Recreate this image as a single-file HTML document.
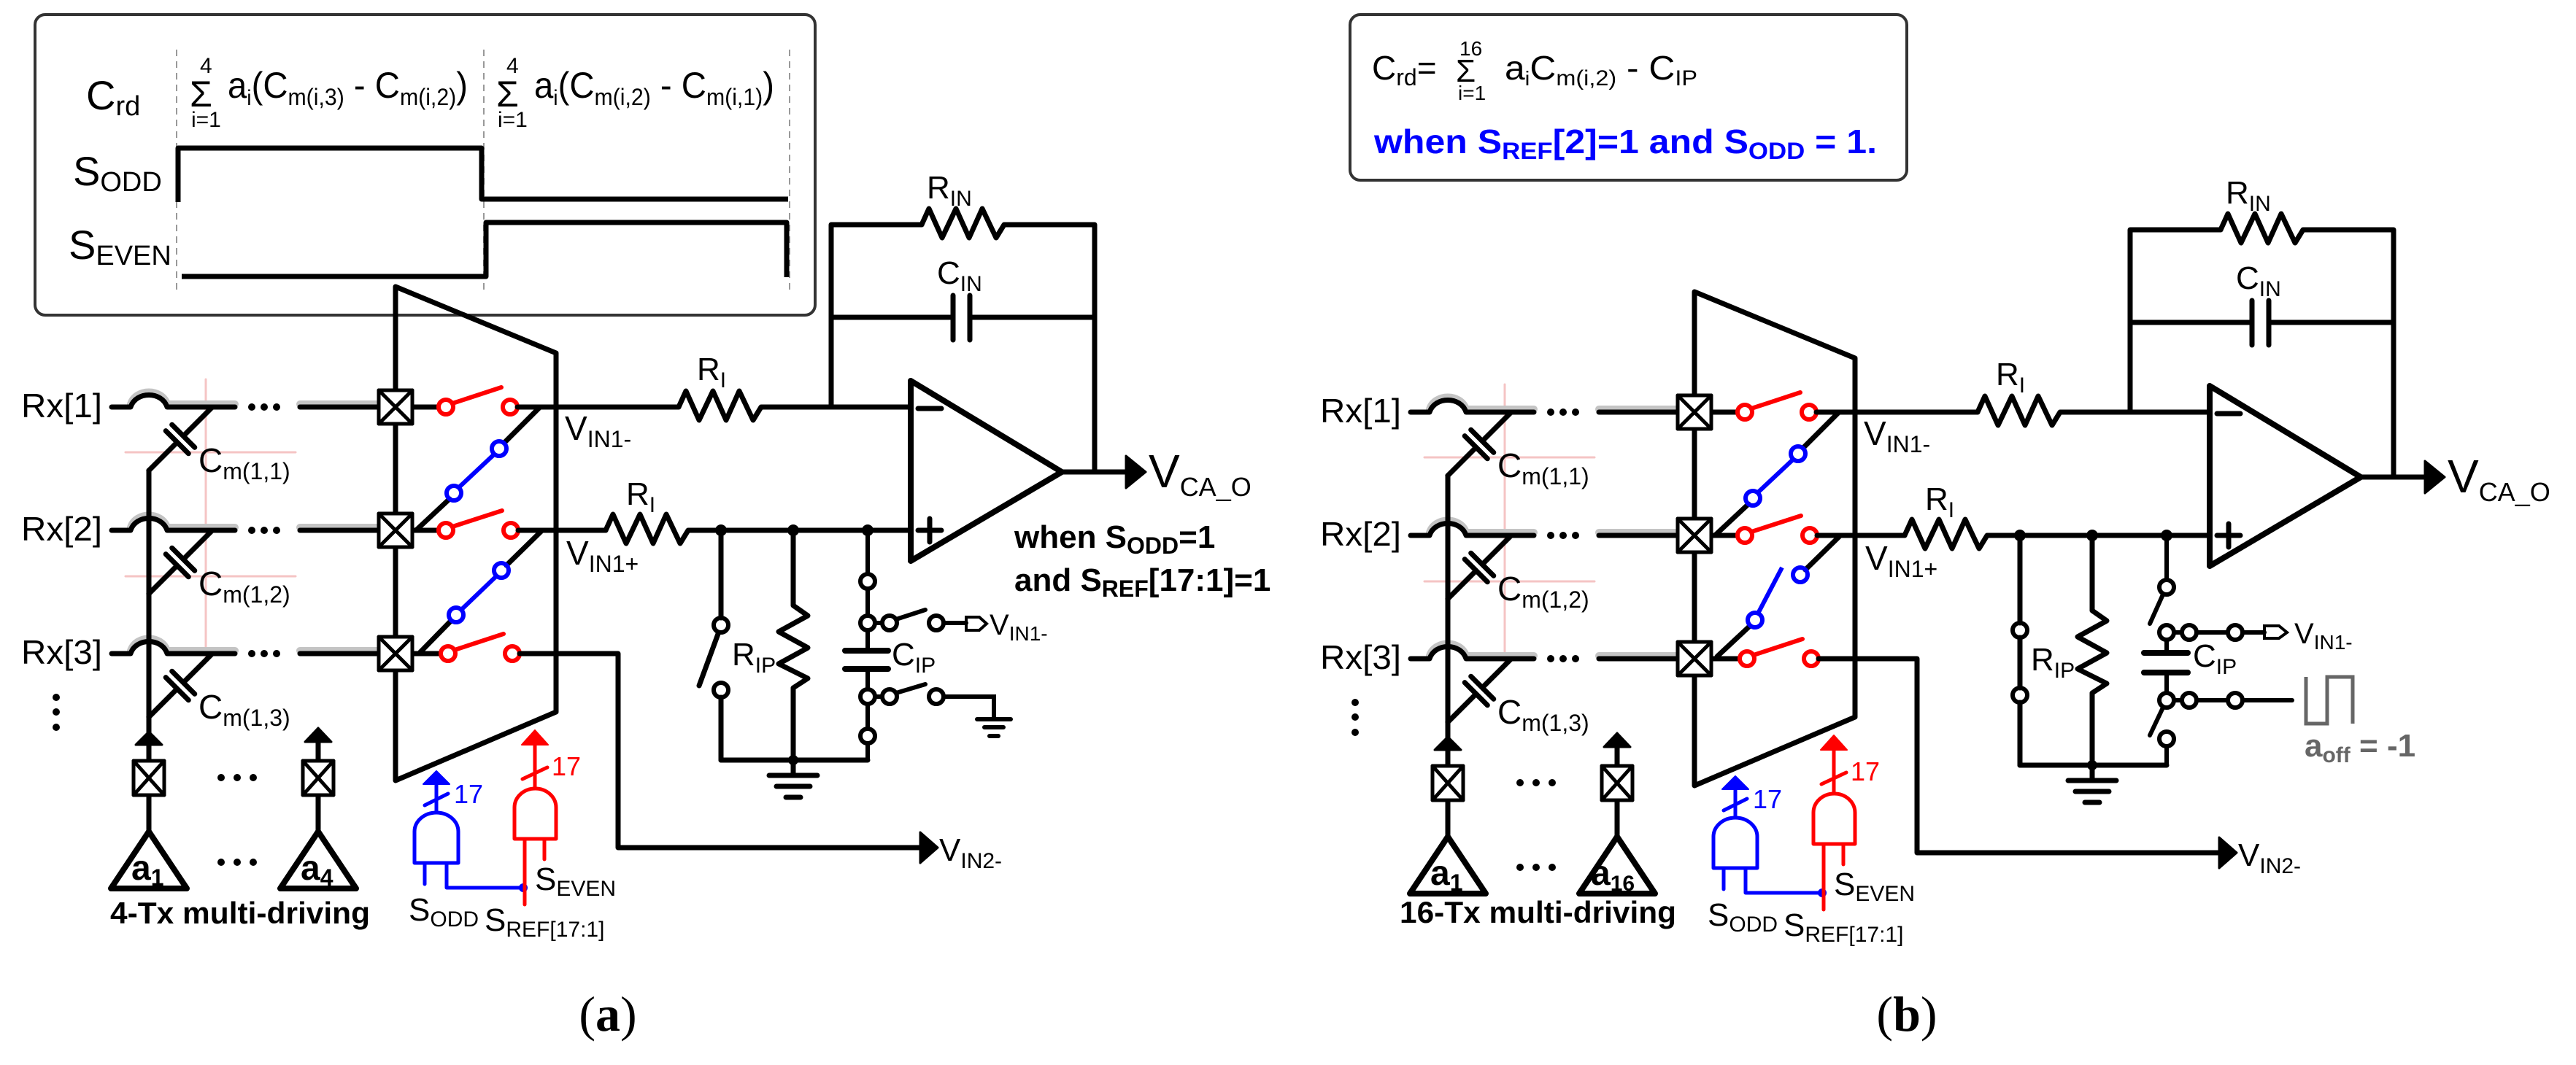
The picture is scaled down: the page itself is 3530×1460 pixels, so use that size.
<!DOCTYPE html>
<html><head><meta charset="utf-8"><style>
html,body{margin:0;padding:0;background:#fff;}
svg{display:block;}
text{font-family:"Liberation Sans",sans-serif;}
</style></head><body>
<svg width="3530" height="1460" viewBox="0 0 3530 1460" xmlns="http://www.w3.org/2000/svg">
<defs>
<g id="common" fill="none" stroke="#000" stroke-width="7" stroke-linecap="round" stroke-linejoin="round">
  <g stroke="#f5c4c4" stroke-width="3">
    <line x1="282" y1="520" x2="282" y2="900"/>
    <line x1="172" y1="620" x2="405" y2="620"/>
    <line x1="172" y1="790" x2="405" y2="790"/>
  </g>
  <g stroke="#c4c4c4" stroke-width="10">
    <path d="M179,554 C186,532 222,532 229,554 L322,554 M411,554 L519,554"/>
    <path d="M179,723 C186,701 222,701 229,723 L322,723 M411,723 L519,723"/>
    <path d="M179,892 C186,870 222,870 229,892 L322,892 M411,892 L519,892"/>
  </g>
  <path d="M153,558 L179,558 C186,536 222,536 229,558 L322,558 M411,558 L519,558 M565,558 L600,558"/>
  <path d="M153,727 L179,727 C186,705 222,705 229,727 L322,727 M411,727 L519,727 M565,727 L600,727"/>
  <path d="M153,896 L179,896 C186,874 222,874 229,896 L322,896 M411,896 L519,896 M565,896 L603,896"/>
  <g fill="#000" stroke="none">
    <circle cx="345" cy="558" r="5"/><circle cx="362" cy="558" r="5"/><circle cx="379" cy="558" r="5"/>
    <circle cx="345" cy="727" r="5"/><circle cx="362" cy="727" r="5"/><circle cx="379" cy="727" r="5"/>
    <circle cx="345" cy="896" r="5"/><circle cx="362" cy="896" r="5"/><circle cx="379" cy="896" r="5"/>
    <circle cx="77" cy="956" r="5"/><circle cx="77" cy="976" r="5"/><circle cx="77" cy="997" r="5"/>
    <circle cx="303" cy="1066" r="5"/><circle cx="325" cy="1066" r="5"/><circle cx="347" cy="1066" r="5"/>
    <circle cx="303" cy="1182" r="5"/><circle cx="325" cy="1182" r="5"/><circle cx="347" cy="1182" r="5"/>
  </g>
  <g transform="translate(247,602) rotate(135)"><path d="M-61,0 L-6,0 M6,0 L61,0 M-6,-22 L-6,22 M6,-22 L6,22"/></g>
  <g transform="translate(247,771) rotate(135)"><path d="M-61,0 L-6,0 M6,0 L61,0 M-6,-22 L-6,22 M6,-22 L6,22"/></g>
  <g transform="translate(247,940) rotate(135)"><path d="M-61,0 L-6,0 M6,0 L61,0 M-6,-22 L-6,22 M6,-22 L6,22"/></g>
  <line x1="204" y1="645" x2="204" y2="1020"/>
  <polygon points="186,1021 204,1003 222,1021" fill="#000" stroke-width="3"/>
  <line x1="204" y1="1021" x2="204" y2="1043"/>
  <line x1="204" y1="1090" x2="204" y2="1140"/>
  <polygon points="204,1140 152,1218 256,1218" stroke-width="8"/>
  <line x1="436" y1="1016" x2="436" y2="1043"/>
  <polygon points="418,1017 436,998 454,1017" fill="#000" stroke-width="3"/>
  <line x1="436" y1="1090" x2="436" y2="1140"/>
  <polygon points="436,1140 384,1218 488,1218" stroke-width="8"/>
  <g stroke-width="5" fill="#fff">
    <rect x="183" y="1043" width="42" height="47"/><path d="M183,1043 L225,1090 M225,1043 L183,1090"/>
    <rect x="415" y="1043" width="42" height="47"/><path d="M415,1043 L457,1090 M457,1043 L415,1090"/>
  </g>
  <polygon points="542,393 762,484 762,976 542,1070"/>
  <g stroke-width="5" fill="#fff">
    <rect x="519" y="535" width="46" height="46"/><path d="M519,535 L565,581 M565,535 L519,581"/>
    <rect x="519" y="704" width="46" height="46"/><path d="M519,704 L565,750 M565,704 L519,750"/>
    <rect x="519" y="873" width="46" height="46"/><path d="M519,873 L565,919 M565,873 L519,919"/>
  </g>
  <g stroke="#f00" stroke-width="6" fill="none">
    <circle cx="611" cy="558" r="10"/><line x1="620" y1="553" x2="687" y2="531"/><circle cx="699" cy="558" r="10"/>
    <circle cx="611" cy="727" r="10"/><line x1="620" y1="722" x2="688" y2="700"/><circle cx="700" cy="727" r="10"/>
    <circle cx="614" cy="896" r="10"/><line x1="623" y1="891" x2="690" y2="869"/><circle cx="702" cy="896" r="10"/>
  </g>
  <line x1="740" y1="558" x2="691" y2="607"/>
  <line x1="616" y1="684" x2="570" y2="727"/>
  <g stroke="#00f" stroke-width="6"><circle cx="684" cy="615" r="10"/><line x1="677" y1="623" x2="629" y2="668"/><circle cx="622" cy="676" r="10"/></g>
  <path d="M709,558 L930,558"/>
  <path d="M930,558 L940,536 L958,576 L977,536 L995,576 L1013,536 L1032,576 L1043,558 L1248,558"/>
  <path d="M710,727 L830,727"/>
  <path d="M830,727 L840,705 L858,745 L877,705 L895,745 L913,705 L932,745 L943,727 L1248,727"/>
  <path d="M712,896 L847,896 L847,1162 L1262,1162"/>
  <polygon points="1261,1141 1285,1162 1261,1183" fill="#000" stroke-width="3"/>
  <path d="M1139,558 L1139,308 L1263,308"/>
  <path d="M1263,308 L1273,286 L1291,326 L1310,286 L1328,326 L1346,286 L1365,326 L1376,308 L1500,308 L1500,647"/>
  <path d="M1139,435 L1306,435 M1329,435 L1500,435 M1306,405 L1306,466 M1329,405 L1329,466"/>
  <polygon points="1248,522 1455,647 1248,769" stroke-width="8"/>
  <path d="M1258,560 L1290,560 M1258,727 L1290,727 M1274,711 L1274,743"/>
  <line x1="1455" y1="647" x2="1545" y2="647"/>
  <polygon points="1543,625 1570,647 1543,669" fill="#000" stroke-width="3"/>
  <g fill="#000" stroke="none"><circle cx="988" cy="727" r="8"/><circle cx="1087" cy="727" r="8"/><circle cx="1189" cy="727" r="8"/><circle cx="1087" cy="1042" r="7"/></g>
  <line x1="988" y1="727" x2="988" y2="847"/>
  <circle cx="988" cy="857" r="10" stroke-width="6"/>
  <circle cx="988" cy="946" r="10" stroke-width="6"/>
  <line x1="988" y1="956" x2="988" y2="1042"/>
  <path d="M988,1042 L1189,1042"/>
  <path d="M1087,727 L1087,830 L1107,844 L1067,866 L1107,888 L1067,910 L1107,930 L1087,943 L1087,1063"/>
  <path d="M1054,1063 L1120,1063 M1064,1078 L1110,1078 M1077,1093 L1097,1093"/>
  <g stroke="#00f" stroke-width="5">
    <path d="M568,1183 L568,1140 A30,26 0 0 1 628,1140 L628,1183 Z"/>
    <path d="M582,1183 L582,1212 M612,1183 L612,1217 L717,1217 M598,1114 L598,1074 M582,1104 L614,1088"/>
    <polygon points="580,1075 598,1057 616,1075" fill="#00f" stroke-width="2"/>
  </g>
  <circle cx="717" cy="1217" r="6" fill="#00f" stroke="none"/>
  <g stroke="#f00" stroke-width="5">
    <path d="M705,1150 L705,1107 A28.5,26 0 0 1 762,1107 L762,1150 Z"/>
    <path d="M719,1150 L719,1240 M746,1150 L746,1178 M733,1081 L733,1020 M716,1068 L750,1052"/>
    <polygon points="715,1021 733,1001 751,1021" fill="#f00" stroke-width="2"/>
  </g>
</g>
</defs>

<!-- ============ PANEL A ============ -->
<rect x="48" y="20" width="1069" height="412" rx="14" fill="none" stroke="#333" stroke-width="4"/>
<g stroke="#999" stroke-width="2" stroke-dasharray="9,7"><line x1="242" y1="68" x2="242" y2="402"/><line x1="663" y1="68" x2="663" y2="402"/><line x1="1082" y1="68" x2="1082" y2="402"/></g>
<g fill="none" stroke="#000" stroke-width="7" stroke-linejoin="round">
  <path d="M244,277 L244,203 L660,203 L660,273 L1080,273"/>
  <path d="M249,379 L666,379 L666,305 L1078,305 L1078,380"/>
</g>
<text x="118" y="150" font-size="56">C<tspan font-size="38" dy="8">rd</tspan></text>
<text x="100" y="254" font-size="56">S<tspan font-size="38" dy="8">ODD</tspan></text>
<text x="94" y="355" font-size="56">S<tspan font-size="38" dy="8">EVEN</tspan></text>
<text x="274" y="100" font-size="30">4</text><text x="260" y="146" font-size="50">Σ</text><text x="262" y="174" font-size="30">i=1</text>
<text x="312" y="134" font-size="50" textLength="329" lengthAdjust="spacingAndGlyphs">a<tspan font-size="30" dy="10">i</tspan><tspan dy="-10">(C</tspan><tspan font-size="32" dy="10">m(i,3)</tspan><tspan dy="-10"> - C</tspan><tspan font-size="32" dy="10">m(i,2)</tspan><tspan dy="-10">)</tspan></text>
<text x="694" y="100" font-size="30">4</text><text x="680" y="146" font-size="50">Σ</text><text x="682" y="174" font-size="30">i=1</text>
<text x="732" y="134" font-size="50" textLength="329" lengthAdjust="spacingAndGlyphs">a<tspan font-size="30" dy="10">i</tspan><tspan dy="-10">(C</tspan><tspan font-size="32" dy="10">m(i,2)</tspan><tspan dy="-10"> - C</tspan><tspan font-size="32" dy="10">m(i,1)</tspan><tspan dy="-10">)</tspan></text>

<use href="#common"/>
<g fill="none" stroke="#000" stroke-width="7" stroke-linecap="round">
  <line x1="743" y1="727" x2="694" y2="775"/>
  <line x1="618" y1="851" x2="574" y2="896"/>
  <line x1="984" y1="869" x2="958" y2="940"/>
  <g stroke-width="6">
  <line x1="1189" y1="727" x2="1189" y2="787"/><circle cx="1189" cy="797" r="10"/>
  <line x1="1189" y1="807" x2="1189" y2="844"/><circle cx="1189" cy="854" r="10"/>
  <line x1="1199" y1="854" x2="1209" y2="854"/><circle cx="1219" cy="854" r="10"/>
  <line x1="1228" y1="849" x2="1268" y2="836"/><circle cx="1283" cy="854" r="10"/>
  <line x1="1293" y1="854" x2="1324" y2="854"/>
  <path d="M1324,846 L1342,846 L1352,855 L1342,864 L1324,864 Z" stroke-width="4"/>
  <line x1="1189" y1="864" x2="1189" y2="892"/>
  <line x1="1158" y1="892" x2="1217" y2="892" stroke-width="8"/><line x1="1158" y1="917" x2="1217" y2="917" stroke-width="8"/>
  <line x1="1189" y1="917" x2="1189" y2="945"/><circle cx="1189" cy="955" r="10"/>
  <line x1="1199" y1="955" x2="1209" y2="955"/><circle cx="1219" cy="955" r="10"/>
  <line x1="1228" y1="950" x2="1268" y2="938"/><circle cx="1283" cy="955" r="10"/>
  <path d="M1293,955 L1362,955 L1362,986"/>
  <path d="M1339,986 L1385,986 M1349,997 L1375,997 M1356,1009 L1368,1009"/>
  <line x1="1189" y1="965" x2="1189" y2="999"/><circle cx="1189" cy="1009" r="10"/>
  <line x1="1189" y1="1019" x2="1189" y2="1042"/>
  </g>
</g>
<g stroke="#00f" stroke-width="6" fill="none"><circle cx="687" cy="782" r="10"/><line x1="680" y1="790" x2="632" y2="836"/><circle cx="625" cy="843" r="10"/></g>

<g font-size="46">
<text x="29" y="572" textLength="111" lengthAdjust="spacingAndGlyphs">Rx[1]</text>
<text x="29" y="741" textLength="111" lengthAdjust="spacingAndGlyphs">Rx[2]</text>
<text x="29" y="910" textLength="111" lengthAdjust="spacingAndGlyphs">Rx[3]</text>
</g>
<text x="272" y="647" font-size="46">C<tspan font-size="32" dy="10">m(1,1)</tspan></text>
<text x="272" y="816" font-size="46">C<tspan font-size="32" dy="10">m(1,2)</tspan></text>
<text x="272" y="985" font-size="46">C<tspan font-size="32" dy="10">m(1,3)</tspan></text>
<text x="774" y="603" font-size="46">V<tspan font-size="32" dy="10">IN1-</tspan></text>
<text x="776" y="774" font-size="46">V<tspan font-size="32" dy="10">IN1+</tspan></text>
<text x="955" y="521" font-size="44">R<tspan font-size="30" dy="10">I</tspan></text>
<text x="858" y="692" font-size="44">R<tspan font-size="30" dy="10">I</tspan></text>
<text x="1270" y="272" font-size="44">R<tspan font-size="30" dy="10">IN</tspan></text>
<text x="1284" y="389" font-size="44">C<tspan font-size="30" dy="10">IN</tspan></text>
<text x="1574" y="668" font-size="64">V<tspan font-size="36" dy="12">CA_O</tspan></text>
<text x="1390" y="751" font-size="44" font-weight="bold">when S<tspan font-size="32" dy="8">ODD</tspan><tspan dy="-8">=1</tspan></text>
<text x="1390" y="810" font-size="44" font-weight="bold">and S<tspan font-size="32" dy="8">REF</tspan><tspan dy="-8">[17:1]=1</tspan></text>
<text x="1003" y="912" font-size="44">R<tspan font-size="30" dy="10">IP</tspan></text>
<text x="1222" y="912" font-size="44">C<tspan font-size="30" dy="10">IP</tspan></text>
<text x="1356" y="870" font-size="40">V<tspan font-size="28" dy="8">IN1-</tspan></text>
<text x="1287" y="1180" font-size="44">V<tspan font-size="30" dy="10">IN2-</tspan></text>
<text x="180" y="1206" font-size="48" font-weight="bold">a<tspan font-size="32" dy="8">1</tspan></text>
<text x="412" y="1206" font-size="48" font-weight="bold">a<tspan font-size="32" dy="8">4</tspan></text>
<text x="151" y="1266" font-size="42" font-weight="bold" textLength="356" lengthAdjust="spacingAndGlyphs">4-Tx multi-driving</text>
<text x="622" y="1101" font-size="36" fill="#00f">17</text>
<text x="756" y="1063" font-size="36" fill="#f00">17</text>
<text x="560" y="1262" font-size="44">S<tspan font-size="30" dy="8">ODD</tspan></text>
<text x="733" y="1220" font-size="44">S<tspan font-size="30" dy="8">EVEN</tspan></text>
<text x="664" y="1276" font-size="44">S<tspan font-size="30" dy="8">REF[17:1]</tspan></text>
<text x="833" y="1413" font-size="68" text-anchor="middle" style="font-family:'Liberation Serif',serif">(<tspan font-weight="bold">a</tspan>)</text>

<!-- ============ PANEL B ============ -->
<rect x="1850" y="20" width="763" height="227" rx="14" fill="none" stroke="#333" stroke-width="4"/>
<text x="1880" y="109" font-size="46">C<tspan font-size="32" dy="8">rd</tspan><tspan dy="-8">=</tspan></text>
<text x="2000" y="76" font-size="28">16</text><text x="1995" y="112" font-size="44">Σ</text><text x="1998" y="137" font-size="28">i=1</text>
<text x="2062" y="109" font-size="46" textLength="264" lengthAdjust="spacingAndGlyphs">a<tspan font-size="28" dy="8">i</tspan><tspan dy="-8">C</tspan><tspan font-size="30" dy="8">m(i,2)</tspan><tspan dy="-8"> - C</tspan><tspan font-size="30" dy="8">IP</tspan></text>
<text x="1883" y="210" font-size="46" font-weight="bold" fill="#00f" textLength="689" lengthAdjust="spacingAndGlyphs">when S<tspan font-size="32" dy="8">REF</tspan><tspan dy="-8">[2]=1 and S</tspan><tspan font-size="32" dy="8">ODD</tspan><tspan dy="-8"> = 1.</tspan></text>

<g transform="translate(1780,7)">
<use href="#common"/>
<g fill="none" stroke="#000" stroke-width="7" stroke-linecap="round">
  <line x1="742" y1="727" x2="694" y2="774"/>
  <line x1="618" y1="851" x2="573" y2="893"/>
  <line x1="988" y1="867" x2="988" y2="936"/>
  <g stroke-width="6">
  <line x1="1189" y1="727" x2="1189" y2="788"/><circle cx="1189" cy="798" r="10"/>
  <line x1="1184" y1="808" x2="1166" y2="848"/>
  <circle cx="1189" cy="860" r="10"/>
  <line x1="1199" y1="860" x2="1210" y2="860"/><circle cx="1220" cy="860" r="10"/>
  <line x1="1230" y1="860" x2="1273" y2="860"/><circle cx="1283" cy="860" r="10"/>
  <line x1="1293" y1="860" x2="1323" y2="860"/>
  <path d="M1323,851 L1343,851 L1354,860 L1343,868 L1323,868 Z" stroke-width="4"/>
  <line x1="1189" y1="870" x2="1189" y2="888"/>
  <line x1="1158" y1="888" x2="1218" y2="888" stroke-width="8"/><line x1="1158" y1="915" x2="1218" y2="915" stroke-width="8"/>
  <line x1="1189" y1="915" x2="1189" y2="943"/><circle cx="1189" cy="953" r="10"/>
  <line x1="1199" y1="953" x2="1210" y2="953"/><circle cx="1220" cy="953" r="10"/>
  <line x1="1230" y1="953" x2="1273" y2="953"/><circle cx="1283" cy="953" r="10"/>
  <line x1="1293" y1="953" x2="1361" y2="953"/>
  <line x1="1184" y1="963" x2="1166" y2="1001"/>
  <circle cx="1189" cy="1006" r="10"/>
  <line x1="1189" y1="1016" x2="1189" y2="1042"/>
  </g>
  <path d="M1380,921 L1380,985 L1409,985 L1409,921 L1444,921 L1444,985" stroke="#666" stroke-width="5" stroke-linecap="butt"/>
</g>
<g stroke="#00f" stroke-width="6" fill="none"><circle cx="687" cy="781" r="10"/><line x1="662" y1="771" x2="629" y2="834"/><circle cx="625" cy="843" r="10"/></g>
</g>

<g font-size="46">
<text x="1809" y="579" textLength="111" lengthAdjust="spacingAndGlyphs">Rx[1]</text>
<text x="1809" y="748" textLength="111" lengthAdjust="spacingAndGlyphs">Rx[2]</text>
<text x="1809" y="917" textLength="111" lengthAdjust="spacingAndGlyphs">Rx[3]</text>
</g>
<text x="2052" y="654" font-size="46">C<tspan font-size="32" dy="10">m(1,1)</tspan></text>
<text x="2052" y="823" font-size="46">C<tspan font-size="32" dy="10">m(1,2)</tspan></text>
<text x="2052" y="992" font-size="46">C<tspan font-size="32" dy="10">m(1,3)</tspan></text>
<text x="2554" y="610" font-size="46">V<tspan font-size="32" dy="10">IN1-</tspan></text>
<text x="2556" y="781" font-size="46">V<tspan font-size="32" dy="10">IN1+</tspan></text>
<text x="2735" y="528" font-size="44">R<tspan font-size="30" dy="10">I</tspan></text>
<text x="2638" y="699" font-size="44">R<tspan font-size="30" dy="10">I</tspan></text>
<text x="3050" y="279" font-size="44">R<tspan font-size="30" dy="10">IN</tspan></text>
<text x="3064" y="396" font-size="44">C<tspan font-size="30" dy="10">IN</tspan></text>
<text x="3354" y="675" font-size="64">V<tspan font-size="36" dy="12">CA_O</tspan></text>
<text x="2783" y="919" font-size="44">R<tspan font-size="30" dy="10">IP</tspan></text>
<text x="3005" y="914" font-size="44">C<tspan font-size="30" dy="10">IP</tspan></text>
<text x="3144" y="882" font-size="40">V<tspan font-size="28" dy="8">IN1-</tspan></text>
<text x="3158" y="1037" font-size="44" font-weight="bold" fill="#666">a<tspan font-size="30" dy="8">off</tspan><tspan dy="-8"> = -1</tspan></text>
<text x="3067" y="1187" font-size="44">V<tspan font-size="30" dy="10">IN2-</tspan></text>
<text x="1960" y="1213" font-size="48" font-weight="bold">a<tspan font-size="32" dy="8">1</tspan></text>
<text x="2180" y="1213" font-size="48" font-weight="bold">a<tspan font-size="30" dy="8">16</tspan></text>
<text x="1918" y="1265" font-size="42" font-weight="bold" textLength="379" lengthAdjust="spacingAndGlyphs">16-Tx multi-driving</text>
<text x="2402" y="1108" font-size="36" fill="#00f">17</text>
<text x="2536" y="1070" font-size="36" fill="#f00">17</text>
<text x="2340" y="1269" font-size="44">S<tspan font-size="30" dy="8">ODD</tspan></text>
<text x="2513" y="1227" font-size="44">S<tspan font-size="30" dy="8">EVEN</tspan></text>
<text x="2444" y="1283" font-size="44">S<tspan font-size="30" dy="8">REF[17:1]</tspan></text>
<text x="2613" y="1413" font-size="68" text-anchor="middle" style="font-family:'Liberation Serif',serif">(<tspan font-weight="bold">b</tspan>)</text>
</svg>
</body></html>
